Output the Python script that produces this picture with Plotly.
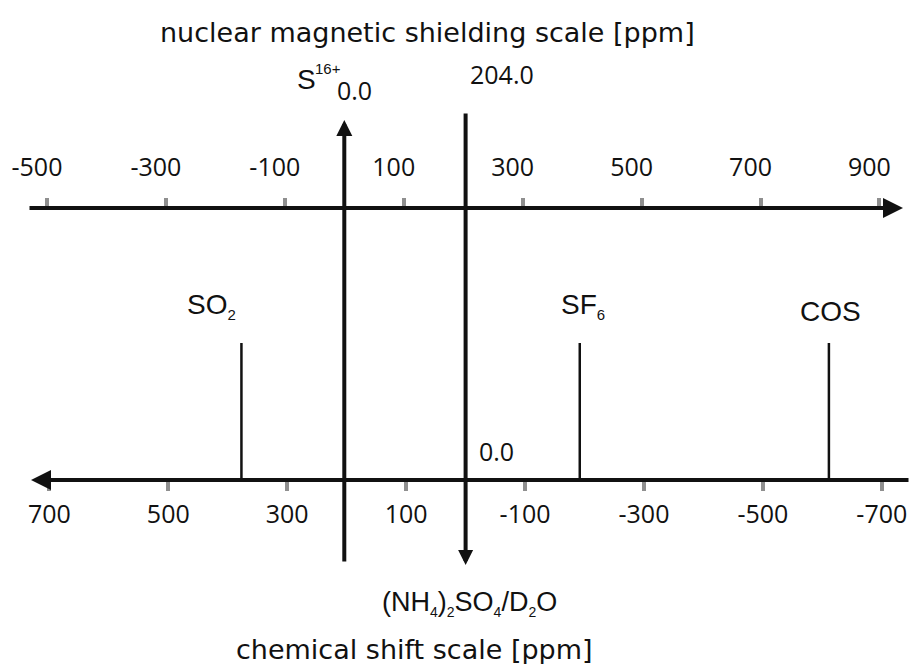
import plotly.graph_objects as go

# ---------------- data ----------------
top_tickvals = [-500, -300, -100, 100, 300, 500, 700, 900]      # shielding scale [ppm]
bottom_tickvals = [700, 500, 300, 100, -100, -300, -500, -700]  # chemical shift scale [ppm]
sigma_bare = 0.0          # S16+ bare nucleus on the shielding scale
sigma_reference = 204.0   # (NH4)2SO4/D2O on the shielding scale (= 0.0 chemical shift)
compound_labels = ["SO<sub><span style='font-size:15px'>2</span></sub>",
                   "SF<sub><span style='font-size:15px'>6</span></sub>",
                   "COS"]
compound_shifts = [377, -192, -611]   # chemical shift [ppm]

# ---------------- layout constants (pixels) ----------------
W, H = 910, 664
PX0 = 344.3       # pixel of sigma = 0
PXPPM = 0.5946    # pixels per ppm
TOP_Y, BOT_Y, PEAK_TOP = 208, 480, 343


def sig_at(px):
    return (px - PX0) / PXPPM


sig_range = [sig_at(0), sig_at(W)]
shift_range = [sigma_reference - sig_range[0], sigma_reference - sig_range[1]]

LINE = "#111111"
TICK = "#8f8f8f"
NUMFONT = dict(family="Open Sans", size=25, color="#111111")
ARIAL = "Liberation Sans, Arial"

fig = go.Figure()

# invisible anchor trace for the shielding axis
fig.add_trace(go.Scatter(x=[sigma_bare, sigma_reference], y=[TOP_Y, TOP_Y], mode="markers",
                         marker=dict(opacity=0), hoverinfo="skip", showlegend=False,
                         xaxis="x", yaxis="y"))

# peaks on the chemical shift scale
px, py = [], []
for s in compound_shifts:
    px += [s, s, None]
    py += [BOT_Y, PEAK_TOP, None]
fig.add_trace(go.Scatter(x=px, y=py, mode="lines", line=dict(color=LINE, width=2.5),
                         hoverinfo="skip", showlegend=False, xaxis="x2", yaxis="y"))

ann = []


def arrow(x, y, ax, ay, xref, size):
    ann.append(dict(x=x, y=y, ax=ax, ay=ay, xref=xref, yref="y", axref=xref, ayref="y",
                    showarrow=True, arrowhead=2, arrowsize=size, arrowwidth=4,
                    arrowcolor=LINE, text=""))


# top axis (shielding) with arrow to the right
arrow(sig_at(903), TOP_Y, sig_at(28), TOP_Y, "x", 1.0)
# bottom axis (chemical shift) with arrow to the left
arrow(sigma_reference - sig_at(31), BOT_Y, shift_range[1], BOT_Y, "x2", 1.0)
# vertical line at S16+ (arrow up)
arrow(sigma_bare, 120, sigma_bare, 563, "x", 0.8)
# vertical line at reference (arrow down)
arrow(sigma_reference, 565, sigma_reference, 112, "x", 0.75)


def text(t, x, y, xref="x", xshift=0, font=None):
    ann.append(dict(text=t, x=x, y=y, xref=xref, yref="y", xshift=xshift, showarrow=False,
                    xanchor="center", yanchor="middle", font=font))


text("nuclear magnetic shielding scale [ppm]", 427 / W, 32, xref="paper",
     font=dict(family="DejaVu Sans", size=27, color="#111111"))
text("chemical shift scale [ppm]", 414 / W, 649, xref="paper",
     font=dict(family="DejaVu Sans", size=27, color="#111111"))
text("S", sigma_bare, 79, xshift=-38, font=dict(family=ARIAL, size=28, color="#111111"))
text("16+", sigma_bare, 68, xshift=-16, font=dict(family=ARIAL, size=15, color="#111111"))
text("0.0", sigma_bare, 90, xshift=10, font=NUMFONT)
text("204.0", sigma_reference, 74, xshift=36, font=NUMFONT)
text("0.0", sigma_reference, 451, xshift=31, font=NUMFONT)
text("(NH<sub><span style='font-size:14px'>4</span></sub>)<sub><span style='font-size:14px'>2</span></sub>"
     "SO<sub><span style='font-size:14px'>4</span></sub>/D<sub><span style='font-size:14px'>2</span></sub>O",
     sigma_reference, 603, xshift=4, font=dict(family=ARIAL, size=27, color="#111111"))

label_shift = [-30, 3, 1.5]
label_y = [306, 306, 311]
for lab, s, dx, yy in zip(compound_labels, compound_shifts, label_shift, label_y):
    text(lab, s, yy, xref="x2", xshift=dx, font=dict(family=ARIAL, size=28, color="#111111"))

fig.update_layout(
    width=W, height=H, margin=dict(l=0, r=0, t=0, b=0),
    paper_bgcolor="white", plot_bgcolor="white", showlegend=False,
    xaxis=dict(range=sig_range, domain=[0, 1], side="top", anchor="free",
               position=1 - TOP_Y / H, tickvals=top_tickvals,
               ticktext=[str(v) for v in top_tickvals],
               ticks="outside", ticklen=10, tickwidth=3.5, tickcolor=TICK,
               tickfont=NUMFONT, ticklabelstandoff=12, ticklabelshift=-10,
               showline=False, showgrid=False, zeroline=False, fixedrange=True),
    xaxis2=dict(range=shift_range, overlaying="x", side="bottom", anchor="free",
                position=1 - BOT_Y / H, tickvals=bottom_tickvals,
                ticktext=[str(v) for v in bottom_tickvals],
                ticks="outside", ticklen=10, tickwidth=3.5, tickcolor=TICK,
                tickfont=NUMFONT, ticklabelstandoff=2,
                showline=False, showgrid=False, zeroline=False, fixedrange=True),
    yaxis=dict(range=[H, 0], domain=[0, 1], visible=False, fixedrange=True),
    annotations=ann,
)

fig.write_html("out.html")
